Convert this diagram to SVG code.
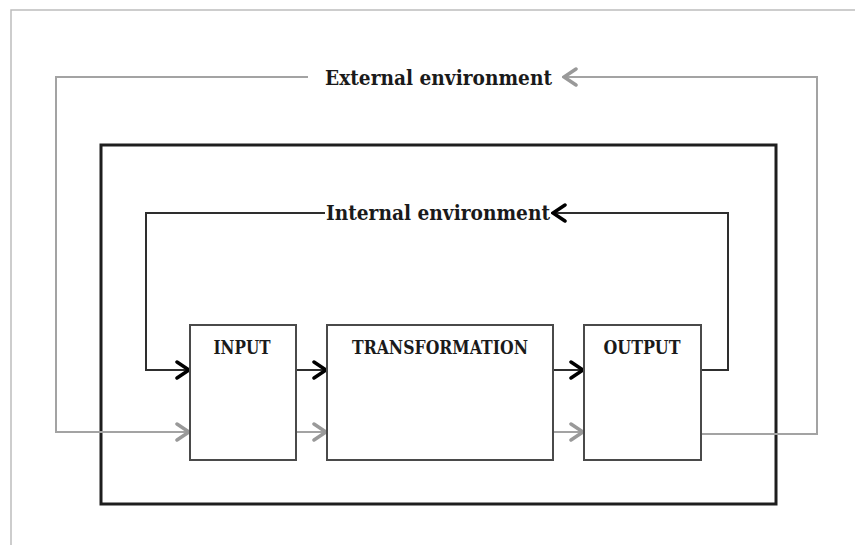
<svg xmlns="http://www.w3.org/2000/svg" width="855" height="545" viewBox="0 0 855 545">
<style>
.lbl{font-family:"DejaVu Serif","Liberation Serif",serif;font-weight:bold;fill:#1a1a1a}
.env{font-size:20px}
.box{fill:#fff;stroke:#4a4a4a;stroke-width:2}
.blk{fill:none;stroke:#2e2e2e;stroke-width:2}
.gry{fill:none;stroke:#a3a3a3;stroke-width:2}
.bname{font-size:19px;text-anchor:middle}
</style>
<defs>
<marker id="ab" viewBox="0 0 16 20" refX="14" refY="10" markerWidth="16" markerHeight="20" markerUnits="userSpaceOnUse" orient="auto">
<path d="M2,2 L14,10 L2,18" fill="none" stroke="#000" stroke-width="3.5" stroke-linecap="round" stroke-linejoin="miter"/>
</marker>
<marker id="ag" viewBox="0 0 16 20" refX="14" refY="10" markerWidth="16" markerHeight="20" markerUnits="userSpaceOnUse" orient="auto">
<path d="M2,2 L14,10 L2,18" fill="none" stroke="#999" stroke-width="3.5" stroke-linecap="round" stroke-linejoin="miter"/>
</marker>
</defs>
<rect width="855" height="545" fill="#fff"/>
<path d="M11,545 V10 H855" fill="none" stroke="#bdbdbd" stroke-width="1.5"/>
<g id="system">
<rect x="101" y="145" width="675" height="359" fill="none" stroke="#1e1e1e" stroke-width="3"/>
</g>
<g id="connectors">
<path class="gry" d="M308,77 H56 V432 H189" marker-end="url(#ag)"/>
<path class="gry" d="M702,434 H817 V77 H564" marker-end="url(#ag)"/>
<path class="blk" d="M325,213 H146 V370 H189" marker-end="url(#ab)"/>
<path class="blk" d="M702,370 H728 V213 H553" marker-end="url(#ab)"/>
<path class="blk" d="M296,370 H326" marker-end="url(#ab)"/>
<path class="blk" d="M553,370 H583" marker-end="url(#ab)"/>
<path class="gry" d="M296,432 H326" marker-end="url(#ag)"/>
<path class="gry" d="M553,432 H583" marker-end="url(#ag)"/>
</g>
<g id="external">
<text class="lbl env" x="325" y="85" textLength="227" lengthAdjust="spacingAndGlyphs">External environment</text>
</g>
<g id="internal">
<text class="lbl env" x="326" y="220" textLength="224" lengthAdjust="spacingAndGlyphs">Internal environment</text>
</g>
<g id="input">
<rect class="box" x="190" y="325" width="106" height="135"/>
<text class="lbl bname" x="242" y="354" textLength="57" lengthAdjust="spacingAndGlyphs">INPUT</text>
</g>
<g id="transformation">
<rect class="box" x="327" y="325" width="226" height="135"/>
<text class="lbl bname" x="440" y="354" textLength="176" lengthAdjust="spacingAndGlyphs">TRANSFORMATION</text>
</g>
<g id="output">
<rect class="box" x="584" y="325" width="117" height="135"/>
<text class="lbl bname" x="642" y="354" textLength="77" lengthAdjust="spacingAndGlyphs">OUTPUT</text>
</g>
</svg>
